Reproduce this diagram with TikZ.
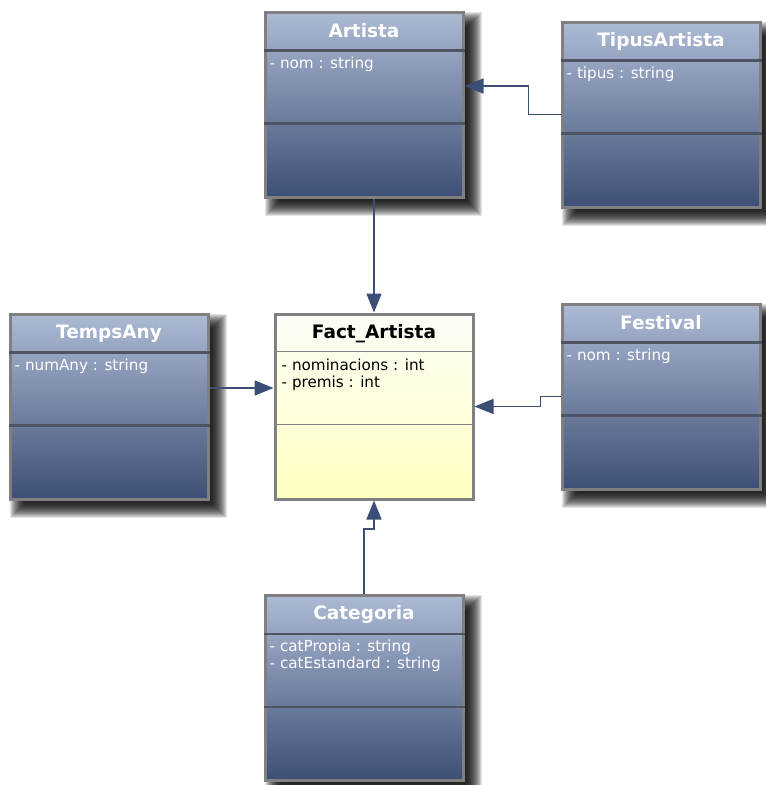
\documentclass[tikz,border=0pt]{standalone}
\usepackage{fontspec}
\setmainfont{DejaVu Sans}
\usetikzlibrary{arrows.meta,backgrounds}

\definecolor{classtop}{RGB}{172,186,212}
\definecolor{classbot}{RGB}{62,79,117}
\definecolor{facttop}{RGB}{253,253,248}
\definecolor{factbot}{RGB}{255,255,192}
\definecolor{frame}{RGB}{128,128,128}
\definecolor{sepdark}{RGB}{78,84,98}
\definecolor{link}{RGB}{58,78,118}

\tikzset{
  umlbox/.style={draw=frame, line width=3pt, minimum width=198pt, minimum height=185pt,
    inner sep=0pt, top color=classtop, bottom color=classbot},
  factbox/.style={umlbox, top color=facttop, bottom color=factbot},
  ctitle/.style={font=\fontsize{18.5}{22}\selectfont\bfseries, text=white, inner sep=0pt},
  cattr/.style={font=\fontsize{15.2}{17}\selectfont, text=white, align=left,
    anchor=north west, inner sep=0pt},
  sepline/.style={sepdark, line width=2.5pt},
  assoc/.style={link, line width=1.5pt, -{Triangle[length=19pt,width=15pt]}},
}

\begin{document}
\begin{tikzpicture}[x=1pt,y=-1pt]
  \useasboundingbox (0,0) rectangle (766,785);

  % classes
  \node[umlbox] (artista) at (364,104.5) {};
  \node[umlbox] (tipus) at (661,114.5) {};
  \node[umlbox] (temps) at (109,406.5) {};
  \node[factbox] (fact) at (374,406.5) {};
  \node[umlbox] (festival) at (661,396.5) {};
  \node[umlbox] (categoria) at (364,688) {};

  % blurred shadows
  \begin{scope}[on background layer]
    \foreach \c in {artista,tipus,temps,festival,categoria}
      \foreach \e in {-8,...,8}
        \fill[black,opacity=0.11] ([shift={(9-\e,9-\e)}]\c.north west)
          rectangle ([shift={(9+\e,9+\e)}]\c.south east);
  \end{scope}

  % compartments
  \foreach \c in {artista,tipus,temps,festival,categoria} {
    \draw[sepline] ([yshift=-40pt]\c.north west) -- ([yshift=-40pt]\c.north east);
    \draw[sepline] ([yshift=-113pt]\c.north west) -- ([yshift=-113pt]\c.north east);
  }
  \draw[frame,line width=1.5pt] ([yshift=-39pt]fact.north west) -- ([yshift=-39pt]fact.north east);
  \draw[frame,line width=1.5pt] ([yshift=-112pt]fact.north west) -- ([yshift=-112pt]fact.north east);

  % names and attributes
  \node[ctitle] (artista-t) at ([yshift=-20.5pt]artista.north) {Artista};
  \node[cattr] (artista-a) at ([shift={(6pt,-46pt)}]artista.north west) {- nom : string};
  \node[ctitle] (tipus-t) at ([yshift=-20.5pt]tipus.north) {TipusArtista};
  \node[cattr] (tipus-a) at ([shift={(6pt,-46pt)}]tipus.north west) {- tipus : string};
  \node[ctitle] (temps-t) at ([yshift=-21.5pt]temps.north) {TempsAny};
  \node[cattr] (temps-a) at ([shift={(6pt,-46pt)}]temps.north west) {- numAny : string};
  \node[ctitle,text=black] (fact-t) at ([yshift=-21pt]fact.north) {Fact\_Artista};
  \node[cattr,text=black] (fact-a) at ([shift={(8pt,-46pt)}]fact.north west)
    {- nominacions : int\\- premis : int};
  \node[ctitle] (festival-t) at ([yshift=-20.5pt]festival.north) {Festival};
  \node[cattr] (festival-a) at ([shift={(6pt,-46pt)}]festival.north west) {- nom : string};
  \node[ctitle] (categoria-t) at ([yshift=-20pt]categoria.north) {Categoria};
  \node[cattr] (categoria-a) at ([shift={(6pt,-46pt)}]categoria.north west)
    {- catPropia : string\\- catEstandard : string};

  % associations
  \draw[assoc] ([xshift=10pt]artista.south) -- (fact.north);
  \draw[assoc] (tipus.west) -- ++(-32,0) |- ([yshift=18.5pt]artista.east);
  \draw[assoc] ([yshift=18.5pt]temps.east) -- ([yshift=18.5pt]fact.west);
  \draw[assoc] (festival.west) -- ++(-20,0) |- (fact.east);
  \draw[assoc] (categoria.north) -- ++(0,-65) -| (fact.south);
\end{tikzpicture}
\end{document}
